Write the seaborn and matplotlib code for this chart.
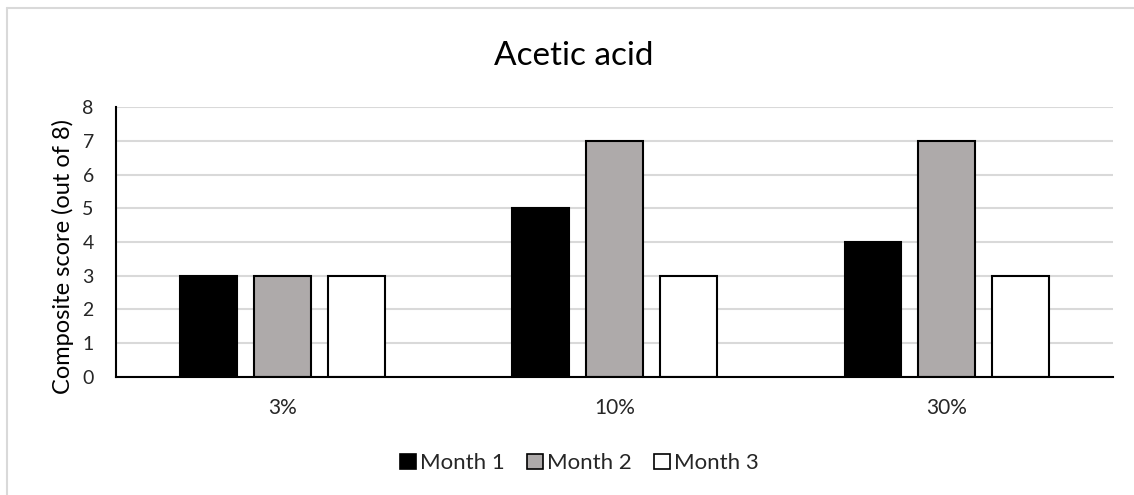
import matplotlib
matplotlib.use("Agg")
import matplotlib.pyplot as plt
import seaborn as sns
import pandas as pd
from matplotlib.lines import Line2D
from matplotlib.patches import Patch

categories = ["3%", "10%", "30%"]
series = ["Month 1", "Month 2", "Month 3"]
month1 = [3, 5, 4]
month2 = [3, 7, 7]
month3 = [3, 3, 3]
yticks = [0, 1, 2, 3, 4, 5, 6, 7, 8]
colors = ["#000000", "#AEAAAA", "#FFFFFF"]

rows = []
for s, vals in zip(series, [month1, month2, month3]):
    for c, v in zip(categories, vals):
        rows.append({"Concentration": c, "Month": s, "Score": v})
df = pd.DataFrame(rows)

sns.set_theme(style="white")
plt.rcParams["font.family"] = ["Lato", "DejaVu Sans"]

fig = plt.figure(figsize=(11.34, 4.95), dpi=100)
ax = fig.add_axes([0.1023, 0.2384, 0.8792, 0.5454])

sns.barplot(data=df, x="Concentration", y="Score", hue="Month",
            order=categories, hue_order=series, palette=colors,
            width=0.667, gap=0.23, edgecolor="black", linewidth=1.5,
            ax=ax, legend=False, saturation=1)

ax.set_ylim(0, 8)
ax.set_xlim(-0.5, 2.5)
ax.set_yticks(yticks)
ax.yaxis.grid(True, color="#D9D9D9", linewidth=1.5)
ax.set_axisbelow(True)
for side in ["top", "right"]:
    ax.spines[side].set_visible(False)
for side in ["left", "bottom"]:
    ax.spines[side].set_color("black")
    ax.spines[side].set_linewidth(1.5)
ax.tick_params(axis="y", labelsize=14, colors="#262626", length=0, pad=16)
ax.tick_params(axis="x", labelsize=15, colors="#262626", length=0, pad=15)
ax.set_xlabel("")
ax.set_ylabel("Composite score (out of 8)", fontsize=17, color="#000000")
ax.yaxis.set_label_coords(-0.042, 0.448)

fig.text(574 / 1134, 1 - 65 / 495, "Acetic acid", ha="center", va="baseline",
         fontsize=24, color="#000000")

handles = [Patch(facecolor=c, edgecolor="black", linewidth=1.2) for c in colors]
fig.legend(handles, series, loc="center", bbox_to_anchor=(0.511, 0.064),
           ncol=3, frameon=False, fontsize=16, handlelength=0.7, handleheight=0.7,
           handletextpad=0.2, columnspacing=1.0, labelcolor="#262626")

fig.add_artist(Line2D([7 / 1134, 7 / 1134], [0, 1 - 8 / 495], color="#D9D9D9", linewidth=1.5,
                      transform=fig.transFigure))
fig.add_artist(Line2D([7 / 1134, 1], [1 - 8 / 495, 1 - 8 / 495], color="#D9D9D9", linewidth=1.5,
                      transform=fig.transFigure))

fig.savefig("out.png", dpi=100)
